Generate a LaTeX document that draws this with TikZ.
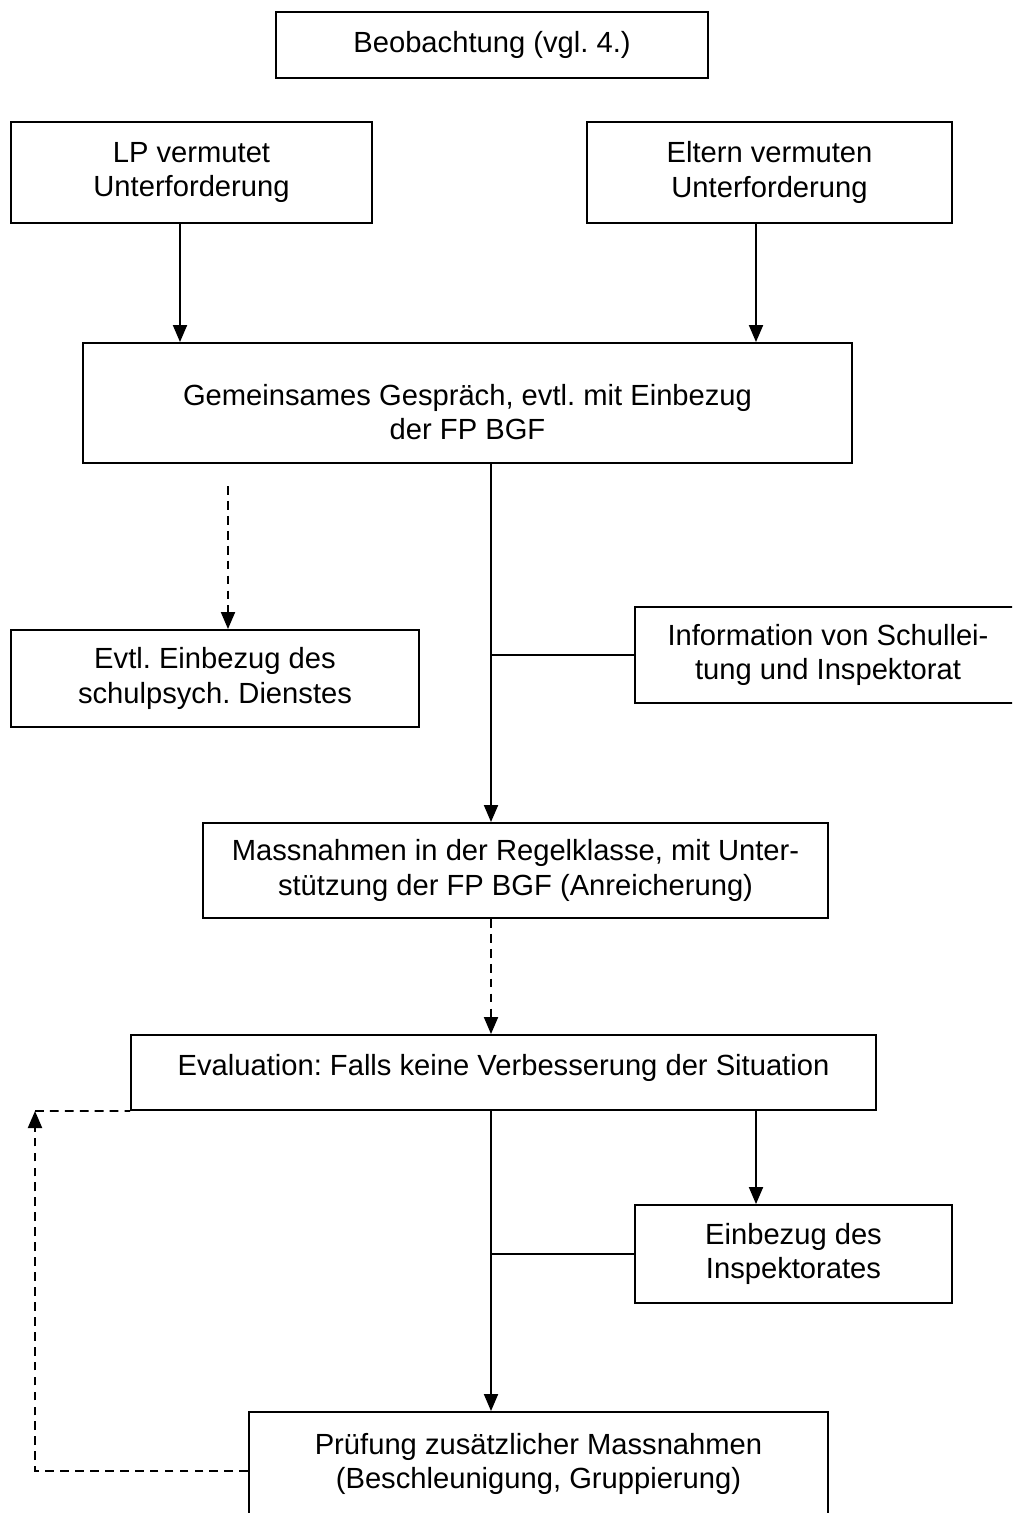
\documentclass[tikz,border=0pt]{standalone}
\usepackage{fontspec}
\setmainfont{Liberation Sans}
\usetikzlibrary{arrows.meta}
\frenchspacing
\begin{document}
\begin{tikzpicture}[x=0.02cm,y=-0.02cm,
  box/.style={draw,line width=1.1pt,inner sep=0pt,align=center,
    font=\fontsize{16.6}{19.6}\selectfont},
  txt/.style={inner sep=0pt,align=center,font=\fontsize{16.6}{19.6}\selectfont},
  arr/.style={line width=1.1pt,-{Triangle[width=0.28cm,length=0.34cm]}},
  dsh/.style={line width=1.1pt,dash pattern=on 5pt off 3.5pt},
  ln/.style={line width=1.1pt}]
\clip (0,0) rectangle (1012,1513);
\node[box,minimum width=8.64cm,minimum height=1.32cm] (beob) at (492,45) {Beobachtung (vgl. 4.)};
\node[box,minimum width=7.22cm,minimum height=2.02cm] (lp) at (191.5,172.5) {LP vermutet\\Unterforderung};
\node[box,minimum width=7.30cm,minimum height=2.02cm] (el) at (769.5,172.5) {Eltern vermuten\\Unterforderung};
\node[box,minimum width=15.38cm,minimum height=2.40cm] (gem) at (467.5,403) {};
\node[txt] (gemt) at (467.5,412) {Gemeinsames Gespräch, evtl. mit Einbezug\\der FP BGF};
\node[box,minimum width=8.16cm,minimum height=1.94cm] (evtl) at (215,678.5) {Evtl. Einbezug des\\schulpsych. Dienstes};
\node[box,minimum width=7.72cm,minimum height=1.92cm] (info) at (828,655) {Information von Schullei-\\tung und Inspektorat};
\node[box,minimum width=12.50cm,minimum height=1.90cm] (mass) at (515.5,870.5) {Massnahmen in der Regelklasse, mit Unter-\\stützung der FP BGF (Anreicherung)};
\node[box,minimum width=14.90cm,minimum height=1.50cm] (eval) at (503.5,1072.5) {};
\node[txt] (evalt) at (503.5,1068) {Evaluation: Falls keine Verbesserung der Situation};
\node[box,minimum width=6.34cm,minimum height=1.96cm] (einb) at (793.5,1254) {Einbezug des\\Inspektorates};
\node[box,minimum width=11.58cm,minimum height=2.08cm] (pruf) at (538.5,1464) {Prüfung zusätzlicher Massnahmen\\(Beschleunigung, Gruppierung)};
\coordinate (xl) at (180,0);
\coordinate (xr) at (756,0);
\coordinate (xm) at (491,0);
\coordinate (xd) at (228,0);
\coordinate (ds) at (228,486);
\coordinate (fb) at (35,1111);
\draw[arr] (xl |- lp.south) -- (xl |- gem.north);
\draw[arr] (xr |- el.south) -- (xr |- gem.north);
\draw[dsh,-{Triangle[width=0.28cm,length=0.34cm]}] (ds) -- (xd |- evtl.north);
\draw[arr] (xm |- gem.south) -- (xm |- mass.north);
\draw[ln] (xm |- info.west) -- (info.west);
\draw[dsh,-{Triangle[width=0.28cm,length=0.34cm]}] (xm |- mass.south) -- (xm |- eval.north);
\draw[arr] (xm |- eval.south) -- (xm |- pruf.north);
\draw[ln] (xm |- einb.west) -- (einb.west);
\draw[arr] (xr |- eval.south) -- (xr |- einb.north);
\draw[dsh,-{Triangle[width=0.28cm,length=0.34cm]}] ([yshift=-0.14cm]pruf.west) -| (fb);
\draw[dsh] (fb) -- (eval.south west);
\end{tikzpicture}
\end{document}
